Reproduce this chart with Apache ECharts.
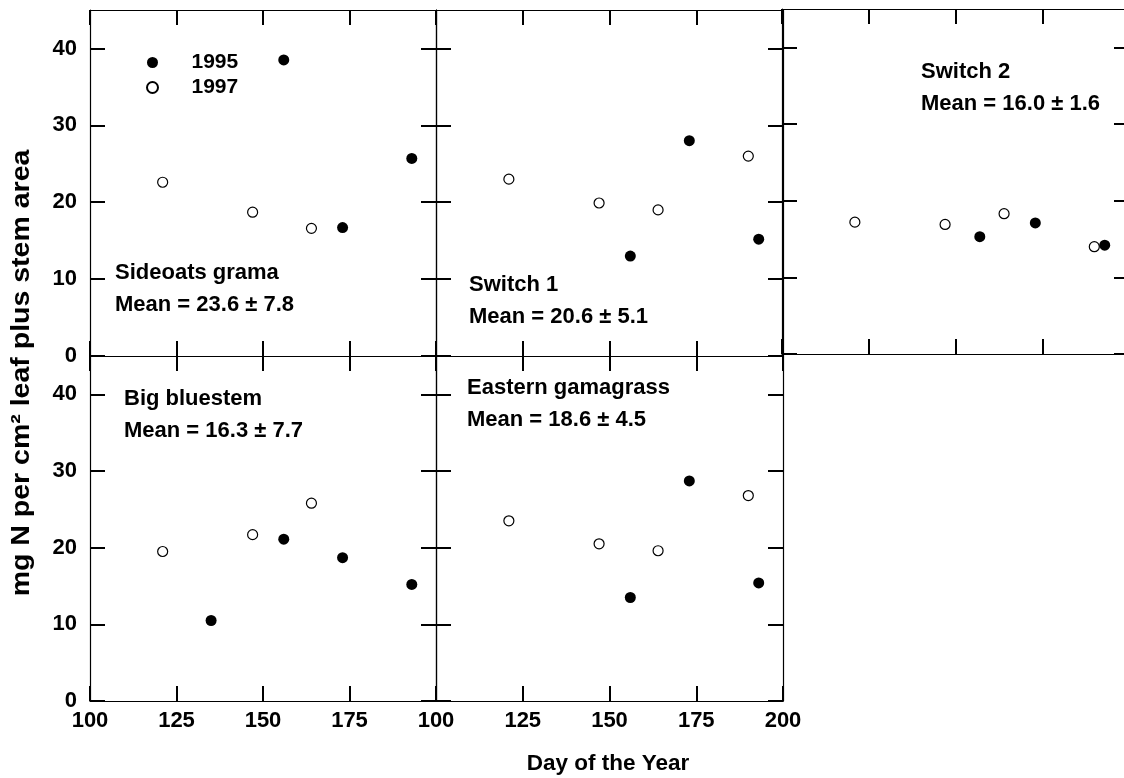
<!DOCTYPE html>
<html>
<head>
<meta charset="utf-8">
<script src="https://cdn.jsdelivr.net/npm/echarts@6/dist/echarts.min.js"></script>
<style>
  html, body { margin: 0; padding: 0; background: #fff; }
  #chart { width: 1124px; height: 778px; }
</style>
</head>
<body>
<div id="chart"></div>
<script>
// panel titles and stats
const panelNames = ['Sideoats grama', 'Switch 1', 'Switch 2', 'Big bluestem', 'Eastern gamagrass']
const panelMeans = ['Mean = 23.6 ± 7.8', 'Mean = 20.6 ± 5.1', 'Mean = 16.0 ± 1.6', 'Mean = 16.3 ± 7.7', 'Mean = 18.6 ± 4.5']

// day of year / mg N values, one sub-array per panel
const days1995 = [[156, 173, 193], [156, 173, 193], [157, 173, 193], [135, 156, 173, 193], [156, 173, 193]]
const vals1995 = [[38.5, 16.7, 25.7], [13.0, 28.0, 15.2], [15.3, 17.1, 14.2], [10.5, 21.1, 18.7, 15.2], [13.5, 28.7, 15.4]]
const days1997 = [[121, 147, 164], [121, 147, 164, 190], [121, 147, 164, 190], [121, 147, 164], [121, 147, 164, 190]]
const vals1997 = [[22.6, 18.7, 16.6], [23.0, 19.9, 19.0, 26.0], [17.2, 16.9, 18.3, 14.0], [19.5, 21.7, 25.8], [23.5, 20.5, 19.6, 26.8]]

const yTicks = [0, 10, 20, 30, 40]
const xLabelsLeft = [100, 125, 150, 175]
const xLabelsRight = [100, 125, 150, 175, 200]

const FONT = '"Liberation Sans", Arial, sans-serif'

// grid boxes: [left, top, width, height]
const boxes = [
    [90, 10, 346, 346],
    [436, 10, 347, 346],
    [782, 9, 347, 345],
    [90, 356, 346, 345],
    [436, 356, 347, 345]
]
const textPos = [[115, 289], [469, 301], [921, 88], [124, 415], [467, 404]]

const labelStyle = { color: '#000', fontFamily: FONT, fontSize: 22, fontWeight: 'bold' }

function xAxisFor(i, position, labels) {
    return {
        type: 'value', gridIndex: i, position: position,
        min: 100, max: 200, interval: 25,
        axisLine: { show: true, onZero: false, lineStyle: { color: '#000', width: 1.2 } },
        axisTick: { show: true, inside: true, length: 15, lineStyle: { color: '#000', width: 2 } },
        axisLabel: labels ? Object.assign({ show: true, customValues: labels, margin: 9 }, labelStyle) : { show: false },
        splitLine: { show: false }
    }
}

function yAxisFor(i, position, labels) {
    return {
        type: 'value', gridIndex: i, position: position,
        min: 0, max: 45, interval: 10,
        axisLine: { show: true, onZero: false, lineStyle: { color: '#000', width: 1.2 } },
        axisTick: { show: true, inside: true, length: 15, customValues: yTicks, lineStyle: { color: '#000', width: 2 } },
        axisLabel: labels ? Object.assign({ show: true, customValues: yTicks, margin: 13 }, labelStyle) : { show: false },
        splitLine: { show: false }
    }
}

const grids = [], xAxes = [], yAxes = [], series = [], graphics = []

boxes.forEach((b, i) => {
    grids.push({ left: b[0], top: b[1], width: b[2], height: b[3], containLabel: false, outerBoundsMode: 'none' })
    xAxes.push(xAxisFor(i, 'bottom', i === 3 ? xLabelsLeft : i === 4 ? xLabelsRight : null))
    xAxes.push(xAxisFor(i, 'top', null))
    yAxes.push(yAxisFor(i, 'left', i === 0 || i === 3))
    yAxes.push(yAxisFor(i, 'right', false))

    series.push({
        name: '1997', type: 'scatter', xAxisIndex: 2 * i, yAxisIndex: 2 * i,
        symbol: 'circle', symbolSize: 10,
        itemStyle: { color: '#fff', borderColor: '#000', borderWidth: 1.2, opacity: 1 },
        data: days1997[i].map((d, k) => [d, vals1997[i][k]])
    })
    series.push({
        name: '1995', type: 'scatter', xAxisIndex: 2 * i, yAxisIndex: 2 * i,
        symbol: 'circle', symbolSize: 11,
        itemStyle: { color: '#000', borderColor: '#000', borderWidth: 0, opacity: 1 },
        data: days1995[i].map((d, k) => [d, vals1995[i][k]])
    })

    graphics.push({
        type: 'text', x: textPos[i][0], y: textPos[i][1], silent: true,
        style: {
            text: panelNames[i] + '\n' + panelMeans[i],
            fill: '#000', fontFamily: FONT, fontSize: 22, fontWeight: 'bold',
            lineHeight: 32, align: 'left', verticalAlign: 'middle'
        }
    })
})

// axis titles
graphics.push({
    type: 'text', x: 22, y: 373, rotation: Math.PI / 2, scaleX: 1.14, silent: true,
    style: {
        text: 'mg N per cm² leaf plus stem area',
        fill: '#000', fontFamily: FONT, fontSize: 25, fontWeight: 'bold',
        align: 'center', verticalAlign: 'middle'
    }
})
graphics.push({
    type: 'text', x: 608, y: 764, silent: true,
    style: {
        text: 'Day of the Year',
        fill: '#000', fontFamily: FONT, fontSize: 22.5, fontWeight: 'bold',
        align: 'center', verticalAlign: 'middle'
    }
})

const chart = echarts.init(document.getElementById('chart'), null, { renderer: 'canvas' })
chart.setOption({
    animation: false,
    backgroundColor: '#fff',
    legend: {
        data: ['1995', '1997'], orient: 'vertical', left: 141, top: 47,
        itemWidth: 68, itemHeight: 11, itemGap: 4, selectedMode: false,
        textStyle: Object.assign({}, labelStyle, { fontSize: 21 })
    },
    grid: grids,
    xAxis: xAxes,
    yAxis: yAxes,
    series: series,
    graphic: graphics
})
</script>
</body>
</html>
